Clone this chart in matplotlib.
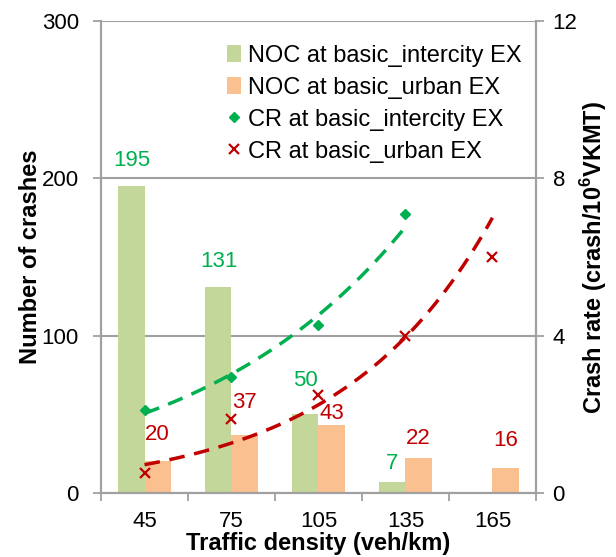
import numpy as np
import matplotlib
matplotlib.use('Agg')
import matplotlib.pyplot as plt

plt.rcParams['font.family'] = ['Liberation Sans', 'DejaVu Sans']
plt.rcParams['mathtext.fontset'] = 'custom'
plt.rcParams['mathtext.rm'] = 'Liberation Sans'
plt.rcParams['mathtext.bf'] = 'Liberation Sans:bold'

# data
densidade = [45, 75, 105, 135, 165]
noc_intercity = [195, 131, 50, 7, None]
noc_urban = [20, 37, 43, 22, 16]
cr_intercity = [2.10, 2.94, 4.28, 7.09]          # 45..135
cr_urban = [0.51, 1.87, 2.48, 4.00, 6.00]        # 45..165

# deslocamento vertical dos rótulos (pontos)
off_verde = [11, 11, 17, 6]
off_verm = [12, 16, 1, 7, 12]

verde_barra = '#C4D79B'
laranja_barra = '#FAC090'
verde = '#00B050'
vermelho = '#C00000'
cinza = '#A0A0A0'

fig = plt.figure(figsize=(6.16, 5.57), dpi=100)
ax = fig.add_axes([0.164, 0.115, 0.706, 0.847])
ax2 = ax.twinx()

largura = 9
x_int = [d for d, v in zip(densidade, noc_intercity) if v is not None]
v_int = [v for v in noc_intercity if v is not None]
b1 = ax.bar([d - largura / 2 for d in x_int], v_int, width=largura,
            color=verde_barra, zorder=2, label='NOC at basic_intercity EX')
b2 = ax.bar([d + largura / 2 for d in densidade], noc_urban, width=largura,
            color=laranja_barra, zorder=2, label='NOC at basic_urban EX')

for d, v, o in zip(x_int, v_int, off_verde):
    ax.annotate(str(v), (d - largura / 2, v), xytext=(0, o), textcoords='offset points',
                ha='center', va='bottom', color=verde, fontsize=16)
for d, v, o in zip(densidade, noc_urban, off_verm):
    ax.annotate(str(v), (d + largura / 2, v), xytext=(0, o), textcoords='offset points',
                ha='center', va='bottom', color=vermelho, fontsize=16)

# pontos de taxa de acidentes
l1, = ax2.plot(densidade[:4], cr_intercity, 'D', color=verde, markersize=5,
               linestyle='none', label='CR at basic_intercity EX', zorder=4)
l2, = ax2.plot(densidade, cr_urban, 'x', color=vermelho, markersize=6.5, mew=1.6,
               linestyle='none', label='CR at basic_urban EX', zorder=4)

# linhas de tendência exponenciais
for xs, ys, cor in [(densidade[:4], cr_intercity, verde), (densidade, cr_urban, vermelho)]:
    b, a = np.polyfit(xs, np.log(ys), 1)
    xx = np.linspace(xs[0], xs[-1], 100)
    ax2.plot(xx, np.exp(a + b * xx), color=cor, lw=2.5, dashes=(4.5, 2.8), zorder=3)

ax.set_xlim(30, 180)
ax.set_ylim(0, 300)
ax2.set_ylim(0, 12)
ax.set_yticks([0, 100, 200, 300])
ax2.set_yticks([0, 4, 8, 12])
ax.set_xticks(densidade)
ax.set_xticks([30, 60, 90, 120, 150, 180], minor=True)
ax.tick_params(axis='x', which='major', length=0, labelsize=16, pad=13)
ax.tick_params(axis='x', which='minor', length=6, width=1.3, color=cinza, direction='out')
ax.tick_params(axis='y', length=6, width=1.3, color=cinza, labelsize=16, pad=10)
ax2.tick_params(axis='y', length=6, width=1.3, color=cinza, labelsize=16, pad=6)

ax.yaxis.grid(True, color=cinza, lw=1.5, zorder=0)
ax.set_axisbelow(True)
for a_ in (ax, ax2):
    a_.spines['top'].set_visible(False)
    for s in ('left', 'right', 'bottom'):
        a_.spines[s].set_color(cinza)
        a_.spines[s].set_linewidth(1.5)

ax.set_xlabel('Traffic density (veh/km)', fontsize=17, fontweight='bold', labelpad=0)
ax.set_ylabel('Number of crashes', fontsize=17, fontweight='bold', labelpad=0)
ax2.set_ylabel(r'Crash rate (crash/10$^{\mathbf{6}}$VKMT)', fontsize=17,
               fontweight='bold')
ax2.yaxis.set_label_coords(1.097, 0.50)

ax2.legend([b1, b2, l1, l2], [b1.get_label(), b2.get_label(), l1.get_label(), l2.get_label()],
           loc='upper right', bbox_to_anchor=(1.0, 0.98), frameon=False, fontsize=17,
           handlelength=0.6, handletextpad=0.3, labelspacing=0.42, borderaxespad=0.2)

fig.savefig('out.png', dpi=100)
